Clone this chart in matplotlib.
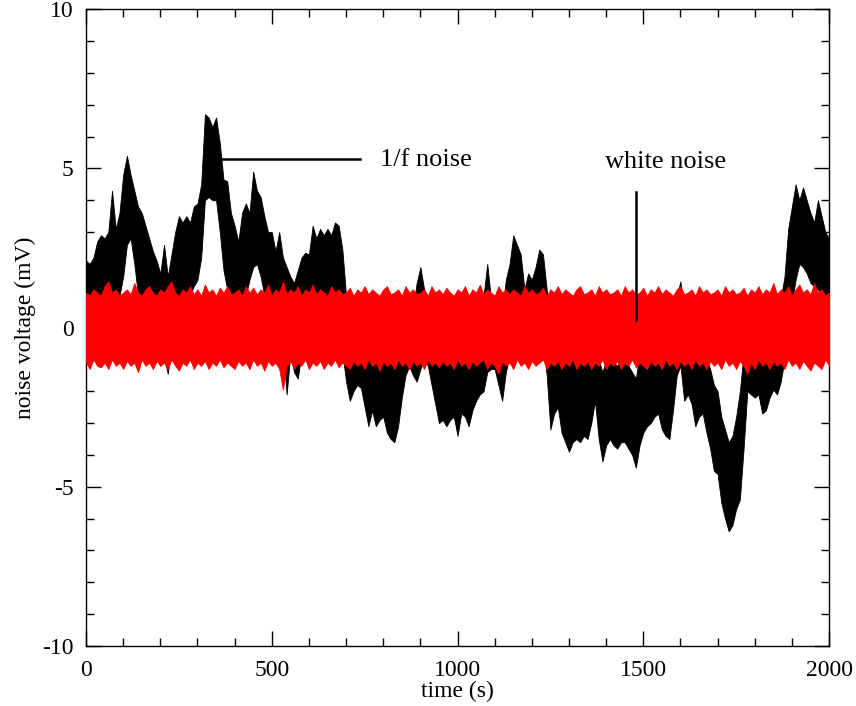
import numpy as np
import matplotlib
matplotlib.use("Agg")
import matplotlib.pyplot as plt
from matplotlib.ticker import MultipleLocator

# time grid (s), 10 s steps
time_s = list(range(0, 2001, 10))

# 1/f noise envelope (mV): upper and lower edge
black_top = [
    2.1, 2.0, 2.2, 2.7, 2.9, 2.8, 3.0, 4.3, 3.1, 3.6,
    4.8, 5.4, 4.8, 4.3, 3.8, 3.6, 3.2, 2.8, 2.4, 2.1,
    1.7, 2.6, 1.6, 2.3, 3.0, 3.5, 3.3, 3.5, 3.3, 3.8,
    3.9, 4.5, 6.7, 6.6, 6.3, 6.6, 5.8, 4.65, 4.6, 3.6,
    3.2, 2.7, 3.6, 3.9, 3.6, 4.9, 4.3, 4.1, 3.5, 3.0,
    3.0, 2.4, 3.0, 2.2, 1.9, 1.6, 1.4, 1.8, 2.2, 2.35,
    2.3, 3.2, 2.8, 3.1, 2.9, 3.1, 2.9, 3.3, 3.2, 2.45,
    1.0, 0.5, 0.3, 0.0, -0.2, -0.4, -0.6, -0.4, -0.7, -0.6,
    -0.4, -0.9, -1.0, -1.0, -0.6, 0.3, 0.8, 1.0, 0.6, 1.4,
    1.9, 1.2, 0.9, 0.4, -0.3, -0.6, -0.6, -0.7, -0.5, -0.6,
    -0.8, -0.3, -0.2, -0.5, 0.0, 0.2, 0.5, 1.0, 2.0, 0.9,
    0.6, 0.3, 0.5, 1.5, 2.0, 2.9, 2.6, 2.3, 1.2, 1.7,
    1.5, 1.9, 2.45, 2.3, 1.2, -0.2, -0.4, -0.3, -0.6, -1.1,
    -1.2, -0.9, -0.8, -1.0, -0.9, -0.8, -0.2, 0.2, -1.0, -1.4,
    -1.0, -0.8, -1.1, -1.2, -1.0, -0.9, -1.2, -1.4, -1.6, -0.8,
    -0.6, -0.4, -0.3, 0.0, -0.1, -0.6, -0.8, -0.5, 0.2, 1.0,
    1.45, 0.4, 0.5, 0.1, -0.4, -0.2, -0.5, -1.0, -1.3, -1.8,
    -2.0, -2.8, -3.2, -3.6, -3.4, -2.8, -2.0, -0.8, 0.4, 0.5,
    0.4, 0.3, -0.1, 0.0, 0.5, 0.3, 0.5, 0.9, 1.6, 3.1,
    3.8, 4.5, 4.0, 4.4, 4.0, 3.6, 3.3, 4.0, 3.5, 3.0,
    2.8,
]
black_bottom = [
    -0.3, -0.5, -0.4, 0.0, 0.3, 0.2, 0.4, 0.6, 0.6, 1.0,
    1.6, 2.6, 2.8, 2.0, 1.0, 0.8, 0.6, 0.2, -0.4, -0.6,
    -1.2, -0.9, -1.45, -0.6, 0.3, 0.8, 0.9, 0.9, 1.0, 1.3,
    1.5, 2.2, 4.0, 4.1, 4.0, 4.0, 3.0, 1.8, 1.2, 0.8,
    0.3, 0.2, 0.8, 1.0, 1.5, 1.9, 2.0, 1.6, 1.0, 0.6,
    0.4, 0.0, 0.0, -0.6, -2.1, -0.8, -1.4, -1.6, -0.8, -0.5,
    -0.3, 0.3, 0.5, 0.6, 0.5, 0.7, 0.8, 0.9, 0.6, -0.8,
    -1.7, -2.3, -2.0, -1.8, -1.9, -2.5, -3.1, -2.6, -3.1, -2.9,
    -2.8, -3.3, -3.5, -3.6, -3.1, -2.2, -1.5, -1.2, -1.5, -1.7,
    -1.3, -1.0, -1.2, -1.8, -2.4, -3.0, -2.9, -3.1, -2.9, -2.8,
    -3.4, -2.7, -2.8, -3.1, -2.6, -2.3, -2.1, -2.0, -1.4, -1.3,
    -1.3, -1.8, -2.3, -1.4, -0.9, 0.3, 0.0, -0.3, -0.8, -0.6,
    -0.7, -0.5, -0.3, -0.5, -1.5, -3.2, -2.7, -2.5, -3.3, -3.6,
    -3.9, -3.6, -3.5, -3.6, -3.4, -3.5, -3.0, -2.3, -3.5, -4.2,
    -3.7, -3.5, -3.7, -3.8, -3.6, -3.6, -3.8, -4.0, -4.4, -3.7,
    -3.3, -3.1, -3.0, -2.8, -2.7, -3.2, -3.4, -3.5, -2.6, -1.5,
    -1.2, -2.3, -2.1, -2.4, -3.1, -2.8, -2.7, -3.3, -3.8, -4.5,
    -4.6, -5.5, -6.0, -6.4, -6.2, -5.7, -5.4, -3.8, -2.0, -2.1,
    -2.2, -2.1, -2.7, -2.6, -2.2, -1.95, -2.1, -1.7, -1.0, 0.2,
    0.8, 1.5, 2.0, 1.9, 1.7, 1.4, 1.3, 1.2, 1.0, 0.9,
    0.8,
]

# white noise envelope (mV)
red_top = [
    1.1, 1.0, 1.2, 1.1, 1.0, 1.3, 1.45, 1.1, 1.2, 1.0,
    1.1, 1.2, 1.05, 1.4, 1.1, 1.0, 1.2, 1.3, 1.1, 1.0,
    1.2, 1.1, 1.3, 1.45, 1.1, 1.0, 1.2, 1.1, 1.3, 1.05,
    1.2, 1.0, 1.35, 1.1, 1.2, 1.0, 1.25, 1.1, 1.3, 1.05,
    1.1, 1.2, 1.0, 1.3, 1.1, 1.25, 1.05, 1.2, 1.1, 1.35,
    1.0, 1.2, 1.1, 1.45, 1.05, 1.2, 1.1, 1.3, 1.0, 1.2,
    1.1, 1.35, 1.05, 1.2, 1.1, 1.0, 1.3, 1.1, 1.2, 1.05,
    1.1, 1.25, 1.0, 1.2, 1.1, 1.3, 1.05, 1.2, 1.1, 1.0,
    1.2, 1.3, 1.05, 1.1, 1.2, 1.0, 1.3, 1.1, 1.2, 1.05,
    1.1, 1.2, 1.0, 1.3, 1.1, 1.2, 1.05, 1.25, 1.1, 1.0,
    1.2, 1.1, 1.3, 1.0, 1.2, 1.1, 1.35, 1.05, 1.2, 1.1,
    1.0, 1.3, 1.1, 1.2, 1.05, 1.2, 1.1, 1.0, 1.3, 1.1,
    1.2, 1.05, 1.1, 1.25, 1.0, 1.2, 1.1, 1.3, 1.05, 1.2,
    1.1, 1.0, 1.2, 1.3, 1.05, 1.1, 1.2, 1.0, 1.3, 1.1,
    1.2, 1.05, 1.1, 1.2, 1.0, 1.3, 1.1, 1.2, 1.05, 1.1,
    1.25, 1.0, 1.2, 1.1, 1.3, 1.05, 1.2, 1.1, 1.0, 1.2,
    1.3, 1.05, 1.1, 1.2, 1.0, 1.3, 1.1, 1.2, 1.05, 1.1,
    1.2, 1.0, 1.3, 1.1, 1.2, 1.05, 1.1, 1.25, 1.0, 1.2,
    1.1, 1.3, 1.05, 1.2, 1.1, 1.4, 1.05, 1.2, 1.1, 1.3,
    1.0, 1.2, 1.35, 1.1, 1.2, 1.05, 1.4, 1.1, 1.2, 1.0,
    1.1,
]
red_bottom = [
    -1.1, -1.3, -1.0, -1.2, -1.25, -1.1, -1.3, -1.0, -1.2, -1.1,
    -1.3, -1.05, -1.2, -1.1, -1.4, -1.0, -1.2, -1.1, -1.3, -1.05,
    -1.2, -1.1, -1.3, -1.0, -1.2, -1.35, -1.1, -1.2, -1.0, -1.3,
    -1.1, -1.2, -1.05, -1.3, -1.1, -1.2, -1.0, -1.25, -1.1, -1.2,
    -1.3, -1.05, -1.2, -1.1, -1.3, -1.0, -1.2, -1.1, -1.35, -1.05,
    -1.2, -1.1, -1.3, -1.95, -1.2, -1.05, -1.3, -1.1, -1.2, -1.0,
    -1.3, -1.1, -1.2, -1.05, -1.3, -1.1, -1.2, -1.0, -1.25, -1.1,
    -1.2, -1.3, -1.05, -1.2, -1.1, -1.3, -1.0, -1.2, -1.1, -1.35,
    -1.05, -1.2, -1.1, -1.3, -1.0, -1.2, -1.1, -1.3, -1.05, -1.2,
    -1.1, -1.3, -1.0, -1.2, -1.1, -1.25, -1.05, -1.2, -1.1, -1.3,
    -1.0, -1.2, -1.1, -1.3, -1.05, -1.2, -1.1, -1.0, -1.3, -1.1,
    -1.2, -1.45, -1.05, -1.2, -1.1, -1.3, -1.0, -1.2, -1.1, -1.3,
    -1.05, -1.2, -1.1, -1.0, -1.3, -1.1, -1.2, -1.05, -1.3, -1.1,
    -1.2, -1.0, -1.3, -1.1, -1.2, -1.05, -1.3, -1.1, -1.2, -1.0,
    -1.3, -1.1, -1.2, -1.05, -1.3, -1.1, -1.2, -1.0, -1.25, -1.1,
    -1.2, -1.3, -1.05, -1.2, -1.1, -1.3, -1.0, -1.2, -1.1, -1.3,
    -1.05, -1.2, -1.1, -1.3, -1.0, -1.2, -1.1, -1.3, -1.05, -1.2,
    -1.1, -1.3, -1.0, -1.2, -1.1, -1.3, -1.05, -1.2, -1.45, -1.1,
    -1.3, -1.0, -1.2, -1.1, -1.3, -1.05, -1.2, -1.1, -1.3, -1.0,
    -1.2, -1.1, -1.3, -1.05, -1.2, -1.35, -1.1, -1.2, -1.3, -1.0,
    -1.2,
]

# annotations
label_1f = "1/f noise"
label_white = "white noise"
line_1f_t = [363, 738]
line_1f_v = [5.3, 5.3]
line_white_t = [1480, 1480]
line_white_v = [4.27, 0.25]

plt.rcParams['font.family'] = ['Liberation Serif', 'DejaVu Serif']
plt.rcParams['axes.unicode_minus'] = False

fig = plt.figure(figsize=(8.56, 7.06), dpi=100)
ax = fig.add_axes([0.1005, 0.085, 0.868, 0.902])

ax.fill_between(time_s, black_bottom, black_top, color='black', lw=0.6,
                edgecolor='black', zorder=2)
ax.fill_between(time_s, red_bottom, red_top, color='#ff0000', lw=0.6,
                edgecolor='#ff0000', zorder=3)

ax.plot(line_1f_t, line_1f_v, color='black', lw=1.8, zorder=4)
ax.plot(line_white_t, line_white_v, color='black', lw=1.8, zorder=4)
ax.text(791, 5.27, label_1f, fontsize=19, va='center', ha='left')
ax.text(1561, 5.2, label_white, fontsize=19, va='center', ha='center')

ax.set_xlim(0, 2000)
ax.set_ylim(-10, 10)
ax.set_xticks([0, 500, 1000, 1500, 2000])
ax.set_yticks([-10, -5, 0, 5, 10])
ax.xaxis.set_minor_locator(MultipleLocator(100))
ax.yaxis.set_minor_locator(MultipleLocator(1))
ax.tick_params(which='both', direction='in', top=True, right=True,
               labelsize=17, width=1.0)
ax.tick_params(axis='x', which='major', pad=10)
ax.tick_params(axis='y', which='major', pad=9)
ax.tick_params(which='major', length=11)
ax.tick_params(which='minor', length=5.5)
for s in ax.spines.values():
    s.set_linewidth(1.0)

ax.set_xlabel("time (s)", fontsize=17, labelpad=0)
ax.set_ylabel("noise voltage (mV)", fontsize=17, labelpad=4)

fig.savefig("out.png", dpi=100)
